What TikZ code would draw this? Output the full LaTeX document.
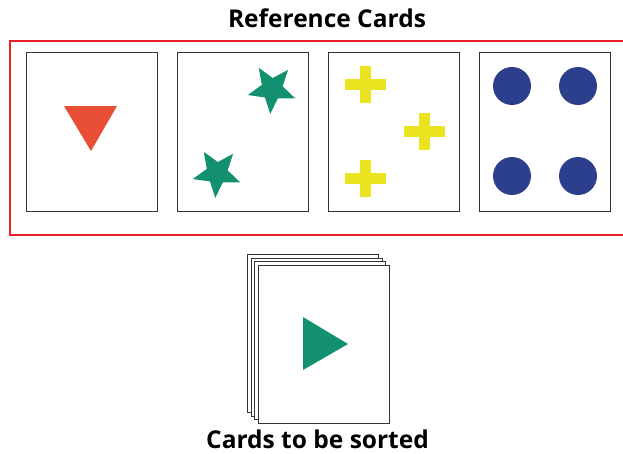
\documentclass[tikz,border=0pt]{standalone}
\usepackage{fontspec}
\setmainfont{Open Sans}
\definecolor{refred}{HTML}{E8212B}
\definecolor{cardline}{HTML}{333333}
\definecolor{triorange}{HTML}{E94E36}
\definecolor{stargreen}{HTML}{13906F}
\definecolor{crossyellow}{HTML}{EBE31F}
\definecolor{dotblue}{HTML}{2B3F8C}
\begin{document}
\begin{tikzpicture}[x=1pt,y=-1pt,
  card/.style={draw=cardline,line width=1pt,fill=white,minimum width=131pt,minimum height=159pt,inner sep=0pt,anchor=north west},
  lbl/.style={font=\fontsize{24.5}{27}\selectfont\bfseries,anchor=base,inner sep=0pt}]
\useasboundingbox (0,0) rectangle (623,453);
\clip (0,0) rectangle (623,453);
% title
\node[lbl] (title) at (327,27) {Reference Cards};
% red frame
\node[draw=refred,line width=1.6pt,minimum width=650pt,minimum height=194pt,inner sep=0pt,anchor=north west] (refbox) at (9,40) {};
% reference cards
\node[card] (c1) at (26,52) {};
\node[card] (c2) at (177,52) {};
\node[card] (c3) at (328,52) {};
\node[card] (c4) at (479,52) {};
% card 1: triangle
\fill[triorange] (64,106) -- (117,106) -- (91,151) -- cycle;
% card 2: stars
\foreach \cx/\cy in {272/89,217/173}{
  \fill[stargreen,shift={(\cx,\cy)}] (-122:25)
    \foreach \k in {1,...,9}{ -- ({-122-36*\k}:{isodd(\k) ? 11 : 25}) } -- cycle;
}
% card 3: crosses
\foreach \cx/\cy in {365.5/84.5,424/131.5,365.5/178}{
  \fill[crossyellow] (\cx-20.5,\cy-5.5) rectangle (\cx+20.5,\cy+5.5);
  \fill[crossyellow] (\cx-5.5,\cy-18.5) rectangle (\cx+5.5,\cy+18.5);
}
% card 4: dots
\foreach \cx/\cy in {512/86,578/86,512/176,578/176}{
  \fill[dotblue] (\cx,\cy) circle[radius=19];
}
% stack of cards to be sorted
\node[card,minimum height=158pt] (s1) at (247,254) {};
\node[card,minimum height=158pt] (s2) at (250.7,257.7) {};
\node[card,minimum height=158pt] (s3) at (254.3,261.3) {};
\node[card,minimum height=158pt] (s4) at (258,265) {};
\fill[stargreen] (303,317) -- (348,344) -- (303,370) -- cycle;
\node[lbl] (sorted) at (317.5,448) {Cards to be sorted};
\end{tikzpicture}
\end{document}
